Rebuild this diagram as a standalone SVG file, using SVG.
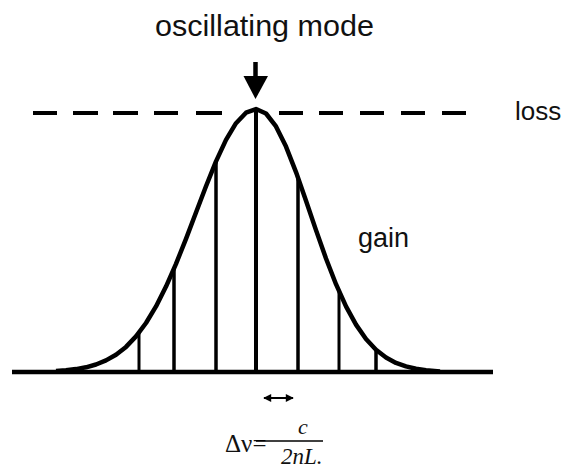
<svg xmlns="http://www.w3.org/2000/svg" width="567" height="468" viewBox="0 0 567 468">
<style>
.lbl{font-family:"Liberation Sans",Arial,sans-serif;fill:#111}
.frm{font-family:"Liberation Serif","Times New Roman",serif;fill:#111}
.ln{stroke:#000;fill:none;stroke-linecap:butt}
</style>
<defs>
<marker id="ah" viewBox="0 0 10 10" refX="9" refY="5" markerWidth="10" markerHeight="8" markerUnits="userSpaceOnUse" orient="auto-start-reverse">
<path d="M0,0 L10,5 L0,10 z" fill="#000"/>
</marker>
</defs>
<rect width="567" height="468" fill="#fff"/>
<g id="title"><text class="lbl" x="155" y="36" font-size="30" textLength="219" lengthAdjust="spacingAndGlyphs">oscillating mode</text></g>
<g id="arrow-mode">
<line class="ln" x1="255.5" y1="62" x2="255.5" y2="80" stroke-width="4.5"/>
<path d="M243.5,76 L268,76 L255.5,99 z" fill="#000"/>
</g>
<g id="loss-line">
<path class="ln" stroke-width="4" d="M33 113h24M73 113h25M113 113h25M154 113h24M196 113h26M279 113h24M319 113h24M360 113h24M401 113h24M442 113h24"/>
</g>
<g id="loss"><text class="lbl" x="515" y="120" font-size="26">loss</text></g>
<g id="gain"><text class="lbl" x="358" y="247" font-size="27">gain</text></g>
<g id="baseline"><line class="ln" x1="12" y1="372" x2="493" y2="372" stroke-width="4.5"/></g>
<g id="gain-curve">
<path class="ln" stroke-width="4.5" stroke-linejoin="round" d="M56 371 L66 370.3 L76 369.1 L86 367.3 L96 364.5 L106 360.4 L116 354.7 L126 346.9 L136 336.4 L146 323 L156 306.4 L166 286.6 L176 263.9 L186 238.8 L196 212.5 L206 186.2 L216 161.4 L226 139.9 L236 123.2 L246 112.7 L256 109 L266 113.5 L276 126.4 L286 146.6 L296 172.1 L306 200.7 L316 230.1 L326 258.5 L336 284.2 L346 306.4 L356 324.6 L366 339 L376 349.7 L386 357.5 L396 362.9 L406 366.4 L416 368.7 L426 370.2 L440 371.5"/>
</g>
<g id="modes">
<line class="ln" x1="139" y1="332.4" x2="139" y2="372" stroke-width="3"/>
<line class="ln" x1="174" y1="268.4" x2="174" y2="372" stroke-width="3.5"/>
<line class="ln" x1="216" y1="161.4" x2="216" y2="372" stroke-width="3.5"/>
<line class="ln" x1="256" y1="109" x2="256" y2="372" stroke-width="4"/>
<line class="ln" x1="298" y1="177.8" x2="298" y2="372" stroke-width="3.5"/>
<line class="ln" x1="339" y1="290.9" x2="339" y2="372" stroke-width="3"/>
<line class="ln" x1="376" y1="349.7" x2="376" y2="372" stroke-width="3.5"/>
</g>
<g id="spacing-arrow">
<line class="ln" x1="264" y1="398" x2="293" y2="398" stroke-width="2" marker-start="url(#ah)" marker-end="url(#ah)"/>
</g>
<g id="formula">
<text class="frm" x="225" y="452" font-size="25">Δν=</text>
<line class="ln" x1="256" y1="441" x2="323" y2="441" stroke-width="1.5"/>
<text class="frm" x="298" y="434" font-size="22" font-style="italic">c</text>
<text class="frm" x="281" y="464" font-size="23" font-style="italic">2nL.</text>
</g>
</svg>
